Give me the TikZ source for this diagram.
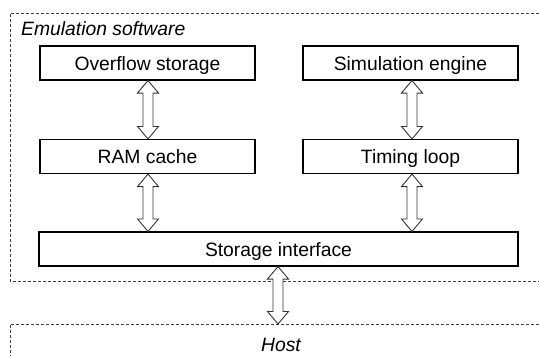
\documentclass[tikz,border=0pt]{standalone}
\usepackage{fontspec}
\setmainfont{Liberation Sans}
\usetikzlibrary{calc}
\tikzset{
  blk/.style={draw=black, line width=1.1pt, minimum width=215pt, minimum height=34pt,
    inner sep=0pt, text height=14pt, text depth=0pt, font=\fontsize{19.3}{22}\selectfont},
  region/.style={draw=black!75, line width=0.9pt, dash pattern=on 3pt off 2pt},
  lbl/.style={inner sep=0pt, font=\fontsize{19.3}{22}\selectfont\itshape},
  dblarr/.style={draw=black!80, line width=0.9pt, fill=white}
}
\newcommand\dblarrow[2]{%
  \path[dblarr] let \p1=(#1), \p2=(#2) in
    (\x1,\y1) -- (\x1+10.5pt,\y1-12.5pt) -- (\x1+5pt,\y1-12.5pt) -- (\x1+5pt,\y2+12.5pt)
    -- (\x1+10.5pt,\y2+12.5pt) -- (\x1,\y2) -- (\x1-10.5pt,\y2+12.5pt) -- (\x1-5pt,\y2+12.5pt)
    -- (\x1-5pt,\y1-12.5pt) -- (\x1-10.5pt,\y1-12.5pt) -- cycle;}
\begin{document}
\begin{tikzpicture}[x=1pt,y=-1pt]
\useasboundingbox (0,0) rectangle (539,356);
% regions
\draw[region] (539,13) -- (10,13) -- (10,281) -- (539,281);
\draw[region] (539,324) -- (10,324) -- (10,356);
\node[lbl, anchor=base west] (emu) at (21,35) {Emulation software};
\node[lbl, anchor=base] (hostlbl) at (281,351) {Host};
\coordinate (host) at (278,324);
% blocks
\node[blk] (over) at (147.5,63) {Overflow storage};
\node[blk] (ram) at (147.5,156.5) {RAM cache};
\node[blk] (sim) at (410.5,63) {Simulation engine};
\node[blk] (timing) at (410.5,156.5) {Timing loop};
\node[blk, minimum width=479pt] (stor) at (278.5,249) {Storage interface};
% arrows
\dblarrow{$(over.south)+(0.5,0)$}{$(ram.north)+(0.5,0)$}
\dblarrow{$(ram.south)+(0.5,0)$}{stor.north -| ram.south}
\dblarrow{$(sim.south)+(1.5,0)$}{$(timing.north)+(1.5,0)$}
\dblarrow{$(timing.south)+(1.5,0)$}{$(stor.north -| timing.south)+(1.5,0)$}
\dblarrow{stor.south -| host}{host}
\end{tikzpicture}
\end{document}
